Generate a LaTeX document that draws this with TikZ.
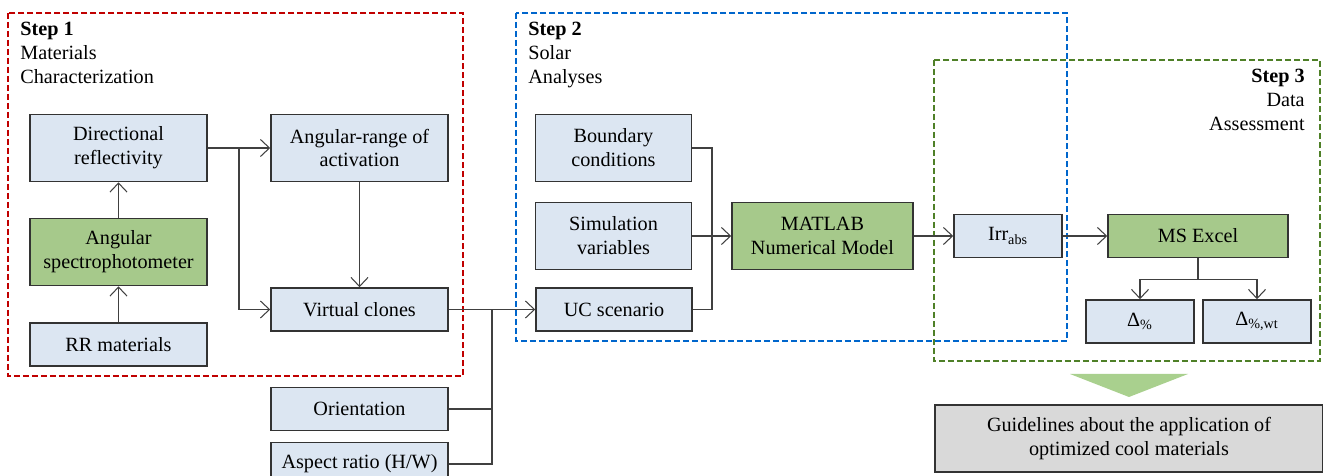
\documentclass[tikz,border=0pt]{standalone}
\usepackage{fontspec}
\setmainfont{Liberation Serif}
\usetikzlibrary{arrows.meta}
\pgfdeclarelayer{background}
\pgfsetlayers{background,main}
\definecolor{boxblue}{RGB}{220,230,242}
\definecolor{boxgreen}{RGB}{166,201,139}
\definecolor{arrowgreen}{RGB}{169,208,142}
\definecolor{guidegray}{RGB}{217,217,217}
\definecolor{framered}{RGB}{192,0,0}
\definecolor{frameblue}{RGB}{0,102,204}
\definecolor{framegreen}{RGB}{79,128,40}
\newcommand{\txtsize}{\fontsize{11.5}{13.6}\selectfont}
\tikzstyle{blk}=[draw=black!80, line width=0.9pt, fill=boxblue, align=center,
    inner sep=0pt, font=\txtsize]
\tikzstyle{tall}=[minimum height=1.34cm]
\tikzstyle{short}=[minimum height=0.86cm]
\tikzstyle{wide}=[minimum width=3.54cm]
\tikzstyle{mid}=[minimum width=3.12cm]
\tikzstyle{narrow}=[minimum width=2.16cm]
\tikzstyle{wire}=[draw=black!75, line width=0.6pt]
\tikzstyle{arr}=[wire, -{Straight Barb[length=1.8mm,width=3.4mm]}]
\tikzstyle{stepframe}=[line width=1.2pt, dash pattern=on 1.2mm off 0.6mm]
\def\forkdrop{21}

\begin{document}
\begin{tikzpicture}[x=0.02cm, y=-0.02cm]
    \useasboundingbox (0,0) rectangle (1323,476);

    % step 1
    \node (dirref) [blk, wide, tall] at (118.5,148) {Directional\\reflectivity};
    \node (spectro) [blk, wide, tall, fill=boxgreen] at (118.5,252) {Angular\\spectrophotometer};
    \node (rrmat) [blk, wide, short] at (118.5,344.5) {RR materials};
    \node (angrange) [blk, wide, tall] at (359.5,148) {Angular-range of\\activation};
    \node (clones) [blk, wide, short] at (359.5,309.5) {Virtual clones};
    \node (orient) [blk, wide, short] at (359.5,409) {Orientation};
    \node (aspect) [blk, wide, short] at (359.5,464) {Aspect ratio (H/W)};

    % step 2
    \node (boundary) [blk, mid, tall] at (613.5,148) {Boundary\\conditions};
    \node (simvar) [blk, mid, tall] at (613.5,236) {Simulation\\variables};
    \node (ucscen) [blk, mid, short] at (614,309.5) {UC scenario};
    \node (matlab) [blk, minimum width=3.62cm, tall, fill=boxgreen] at (822.5,236) {MATLAB\\Numerical Model};

    % step 3
    \node (irr) [blk, narrow, short] at (1008,236) {Irr\textsubscript{abs}};
    \node (excel) [blk, minimum width=3.6cm, short, fill=boxgreen] at (1198,236) {MS Excel};
    \node (dpct) [blk, narrow, short] at (1140,321.5) {Δ\textsubscript{\%}};
    \node (dwt) [blk, narrow, short] at (1257,321.5) {Δ\textsubscript{\%,wt}};
    \node (guide) [blk, fill=guidegray, minimum width=7.76cm, tall] at (1129,438.5)
        {Guidelines about the application of\\optimized cool materials};

    % step titles
    \node (title1) [anchor=north west, align=left, font=\txtsize, inner sep=0pt] at (20,22)
        {\textbf{Step 1}\\Materials\\Characterization};
    \node (title2) [anchor=north west, align=left, font=\txtsize, inner sep=0pt] at (528,22)
        {\textbf{Step 2}\\Solar\\Analyses};
    \node (title3) [anchor=north east, align=right, font=\txtsize, inner sep=0pt] at (1305,69)
        {\textbf{Step 3}\\Data\\Assessment};

    % connectors
    \draw [arr] (rrmat) -- (spectro);
    \draw [arr] (spectro) -- (dirref);
    \coordinate (split1) at (239,148);
    \draw [wire] (dirref.east) -- (split1);
    \draw [arr] (split1) -- (angrange.west);
    \draw [arr] (split1) |- (clones.west);
    \draw [arr] (angrange) -- (clones);

    \coordinate (join1) at (492,309.5);
    \draw [wire] (clones.east) -- (join1);
    \draw [wire] (orient.east) -| (join1);
    \draw [wire] (aspect.east) -| (join1);
    \draw [arr] (join1) -- (ucscen.west);

    \coordinate (join2) at (712,236);
    \draw [wire] (boundary.east) -| (join2);
    \draw [wire] (ucscen.east) -| (join2);
    \draw [wire] (simvar.east) -- (join2);
    \draw [arr] (join2) -- (matlab.west);

    \draw [arr] (matlab) -- (irr);
    \draw [arr] (irr) -- (excel);
    \path (excel.south)+(0,\forkdrop) coordinate (fork);
    \draw [wire] (excel.south) -- (fork);
    \draw [arr] (fork) -| (dpct.north);
    \draw [arr] (fork) -| (dwt.north);

    % result arrow
    \fill [arrowgreen] (1070,374) -- (1188,374) -- (1129,397) -- cycle;

    \begin{pgfonlayer}{background}
        \draw [stepframe, draw=framered] (8,13) rectangle (463,376);
        \draw [stepframe, draw=frameblue] (516,13) rectangle (1067,341);
        \draw [stepframe, draw=framegreen] (934,60) rectangle (1320,361);
    \end{pgfonlayer}
\end{tikzpicture}
\end{document}
